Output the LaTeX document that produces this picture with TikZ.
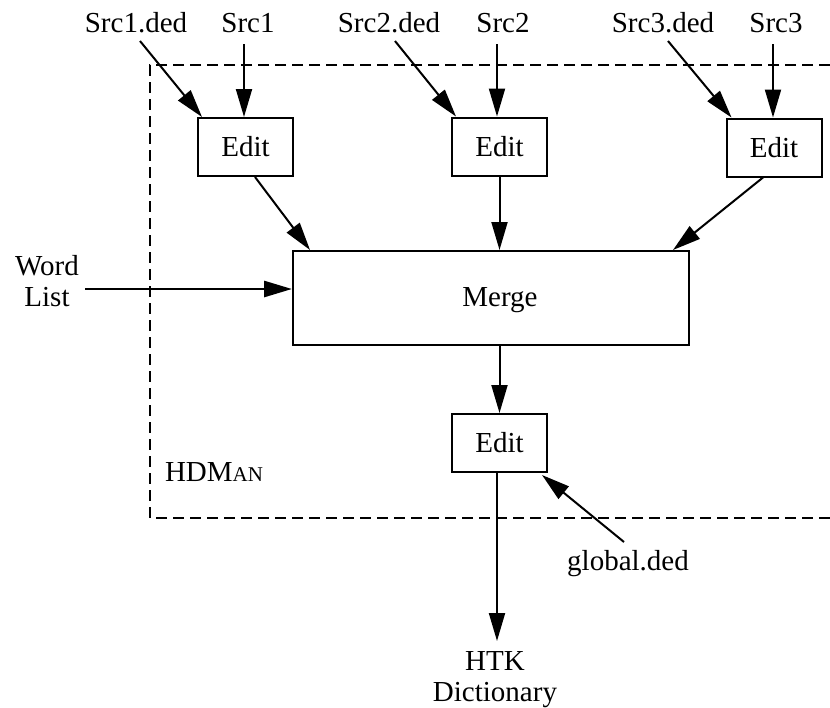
\documentclass[tikz,border=0pt]{standalone}
\usepackage{fontspec}
\setmainfont{Liberation Serif}
\usetikzlibrary{arrows.meta}
\begin{document}
\begin{tikzpicture}[x=0.5pt,y=-0.5pt,
  every node/.style={font=\fontsize{14.5}{15.5}\selectfont, inner sep=0pt},
  lbl/.style={anchor=base},
  box/.style={draw, line width=1pt, minimum width=47.5pt, minimum height=29pt},
  conn/.style={line width=1pt, -{Triangle[length=14pt,width=8pt]}},
  frame/.style={line width=0.8pt, dash pattern=on 5.5pt off 3pt}]
\useasboundingbox (0,0) rectangle (830,707);
% dashed frame
\draw[frame] (830,65) -- (150,65) -- (150,518) -- (830,518);
% labels
\node[lbl] (s1d) at (136,32) {Src1.ded};
\node[lbl] (s1)  at (248,32) {Src1};
\node[lbl] (s2d) at (389,32) {Src2.ded};
\node[lbl] (s2)  at (503,32) {Src2};
\node[lbl] (s3d) at (663,32) {Src3.ded};
\node[lbl] (s3)  at (776,32) {Src3};
\node[align=center] (wl) at (47,281) {Word\\List};
\node (hdm) at (214,472) {HDM{\fontsize{10.5}{11}\selectfont AN}};
\node[lbl] (gd) at (628,570) {global.ded};
\node[align=center] (htk) at (495,680) {HTK\\Dictionary};
% boxes
\node[box] (e1) at (245.5,147) {Edit};
\node[box] (e2) at (499.5,146.5) {Edit};
\node[box] (e3) at (774,147.5) {Edit};
\node[box, minimum width=198pt, minimum height=47pt] (merge) at (491,298) {};
\node (mergelbl) at (500,300) {Merge};
\node[box] (e4) at (499.5,443) {Edit};
% anchor points
\coordinate (a1) at (140,41);
\coordinate (a2) at (395,41);
\coordinate (a3) at (668,41);
\coordinate (t1) at (244,44);
\coordinate (t2) at (497,44);
\coordinate (t3) at (773,44);
\coordinate (wlend) at (85,289);
\coordinate (gdstart) at (624,542);
\coordinate (htkend) at (497,641);
% connectors
\draw[conn] (a1) -- ([xshift=2.5pt]e1.north west);
\draw[conn] (t1) -- (t1 |- e1.north);
\draw[conn] (a2) -- ([xshift=2.5pt]e2.north west);
\draw[conn] (t2) -- (t2 |- e2.north);
\draw[conn] (a3) -- ([xshift=3pt]e3.north west);
\draw[conn] (t3) -- (t3 |- e3.north);
\draw[conn] ([xshift=4.75pt]e1.south) -- ([xshift=9pt]merge.north west);
\draw[conn] (e2.south) -- (e2.south |- merge.north);
\draw[conn] ([xshift=-5.5pt]e3.south) -- ([xshift=-8.5pt]merge.north east);
\draw[conn, line width=1.4pt] (wlend) -- (wlend -| merge.west);
\draw[conn] (merge.south -| e4.north) -- (e4.north);
\draw[conn] (gdstart) -- ([xshift=-3pt,yshift=-1pt]e4.south east);
\draw[conn] (htkend |- e4.south) -- (htkend);
\end{tikzpicture}
\end{document}
